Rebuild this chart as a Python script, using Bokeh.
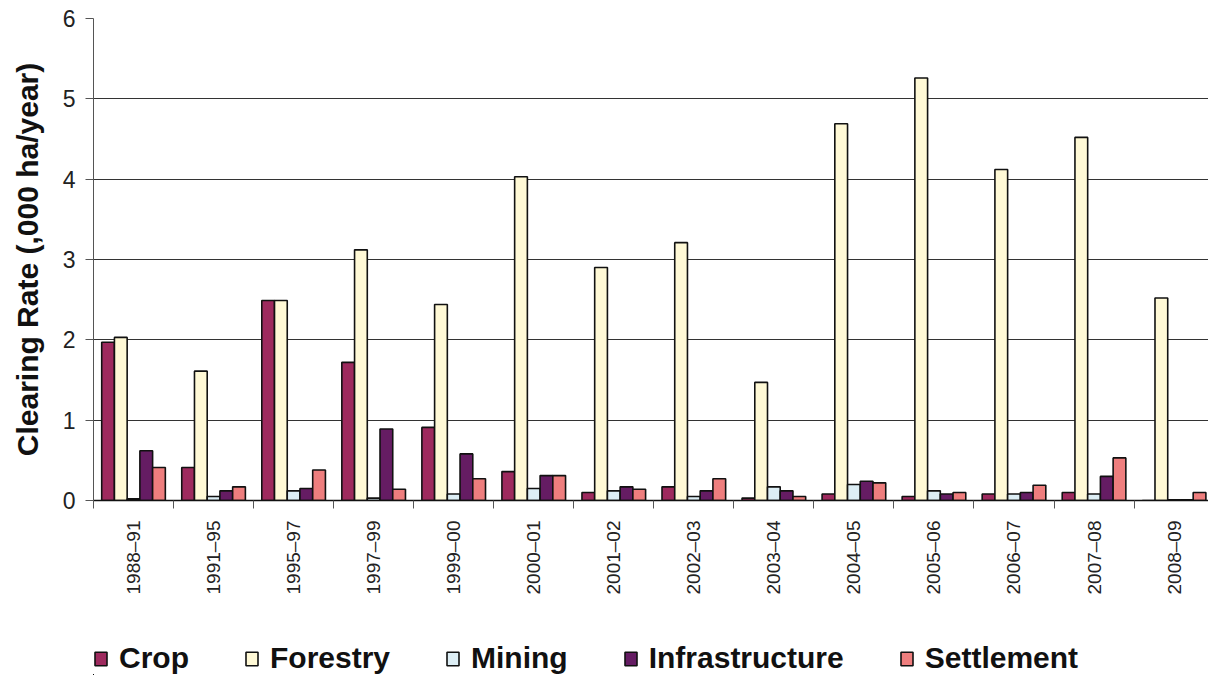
import math
from bokeh.plotting import figure
from bokeh.layouts import column
from bokeh.models import Range1d, FixedTicker, Legend, LegendItem, ColumnDataSource
from bokeh.transform import dodge
from bokeh.embed import file_html
from bokeh.resources import INLINE

periods = ["1988–91", "1991–95", "1995–97", "1997–99", "1999–00", "2000–01", "2001–02",
           "2002–03", "2003–04", "2004–05", "2005–06", "2006–07", "2007–08", "2008–09"]
crop = [1.97, 0.41, 2.49, 1.72, 0.91, 0.36, 0.10, 0.17, 0.03, 0.08, 0.05, 0.08, 0.10, 0.0]
forestry = [2.03, 1.61, 2.49, 3.12, 2.44, 4.03, 2.90, 3.21, 1.47, 4.69, 5.26, 4.12, 4.52, 2.52]
mining = [0.02, 0.05, 0.12, 0.03, 0.08, 0.15, 0.12, 0.05, 0.17, 0.20, 0.12, 0.08, 0.08, 0.01]
infrastructure = [0.62, 0.12, 0.15, 0.89, 0.58, 0.31, 0.17, 0.12, 0.12, 0.24, 0.08, 0.10, 0.30, 0.01]
settlement = [0.41, 0.17, 0.38, 0.14, 0.27, 0.31, 0.14, 0.27, 0.05, 0.22, 0.10, 0.19, 0.53, 0.10]

series_names = ["Crop", "Forestry", "Mining", "Infrastructure", "Settlement"]
series_keys = ["crop", "forestry", "mining", "infrastructure", "settlement"]
colors = ["#9E2A5E", "#FFF9D6", "#DDEEF5", "#651C63", "#EE7E7E"]

centers = [i + 0.5 for i in range(len(periods))]
source = ColumnDataSource(dict(x=centers, crop=crop, forestry=forestry, mining=mining,
                               infrastructure=infrastructure, settlement=settlement))

FONT = "Liberation Sans"
OUTLINE = "#111111"
bw = 0.159

p = figure(width=1208, height=600, output_backend="svg", toolbar_location=None,
           x_range=Range1d(0, 13.93), y_range=Range1d(0, 6),
           min_border_left=93, min_border_top=18, min_border_right=0, min_border_bottom=100)
p.outline_line_color = None
p.background_fill_color = "white"
p.border_fill_color = "white"

for j, (key, col) in enumerate(zip(series_keys, colors)):
    p.vbar(x=dodge("x", (j - 2) * bw, range=p.x_range), top=key, width=bw, bottom=0,
           source=source, fill_color=col, line_color=OUTLINE, line_width=1.6)

# x axis
p.xaxis.ticker = FixedTicker(ticks=centers, minor_ticks=list(range(0, 15)))
p.xaxis.major_label_overrides = {c: lab for c, lab in zip(centers, periods)}
p.xaxis.major_tick_line_color = None
p.xaxis.major_tick_out = 8
p.xaxis.major_tick_in = 0
p.xaxis.minor_tick_out = 8
p.xaxis.minor_tick_in = 0
p.xaxis.minor_tick_line_color = "#555555"
p.xaxis.axis_line_color = "#111111"
p.xaxis.axis_line_width = 1.5
p.xaxis.major_label_orientation = math.pi / 2
p.xaxis.major_label_text_font = FONT
p.xaxis.major_label_text_font_size = "19px"
p.xaxis.major_label_text_color = "#222222"
p.xaxis.major_label_standoff = 12

# y axis
p.yaxis.ticker = FixedTicker(ticks=[0, 1, 2, 3, 4, 5, 6])
p.yaxis.minor_tick_line_color = None
p.yaxis.major_tick_out = 8
p.yaxis.major_tick_in = 0
p.yaxis.major_tick_line_color = "#555555"
p.yaxis.axis_line_color = "#555555"
p.yaxis.major_label_text_font = FONT
p.yaxis.major_label_text_font_size = "23px"
p.yaxis.major_label_text_color = "#222222"
p.yaxis.major_label_standoff = 10
p.yaxis.axis_label = "Clearing Rate (,000 ha/year)"
p.yaxis.axis_label_text_font = FONT
p.yaxis.axis_label_text_font_style = "bold"
p.yaxis.axis_label_text_font_size = "30px"
p.yaxis.axis_label_text_color = "#111111"
p.yaxis.axis_label_standoff = 16

# grid
p.xgrid.grid_line_color = None
p.ygrid.ticker = FixedTicker(ticks=[1, 2, 3, 4, 5, 6])
p.ygrid.grid_line_color = "#333333"
p.ygrid.grid_line_width = 1

# legend strip below the chart (same series drawn far out of view, only the legend shows)
lg = figure(width=1208, height=75, output_backend="svg", toolbar_location=None,
            x_range=Range1d(100, 101), y_range=Range1d(10, 11),
            x_axis_type=None, y_axis_type=None,
            min_border_left=93, min_border_right=0, min_border_top=0, min_border_bottom=0)
lg.outline_line_color = None
lg.xgrid.grid_line_color = None
lg.ygrid.grid_line_color = None
items = []
for j, (key, name, col) in enumerate(zip(series_keys, series_names, colors)):
    r = lg.vbar(x=dodge("x", (j - 2) * bw, range=lg.x_range), top=key, width=bw, bottom=0,
                source=source, fill_color=col, line_color=OUTLINE, line_width=1.6)
    items.append(LegendItem(label=name, renderers=[r]))

legend = Legend(items=items, orientation="horizontal", location=(0, 0),
                glyph_width=15, glyph_height=17, label_standoff=11, spacing=55,
                padding=2, margin=0, border_line_color=None, background_fill_alpha=0,
                label_text_font=FONT, label_text_font_style="bold",
                label_text_font_size="30px", label_text_color="#111111")
lg.add_layout(legend, "center")

layout = column(p, lg, spacing=0)
open("out.html", "w").write(file_html(layout, INLINE))
